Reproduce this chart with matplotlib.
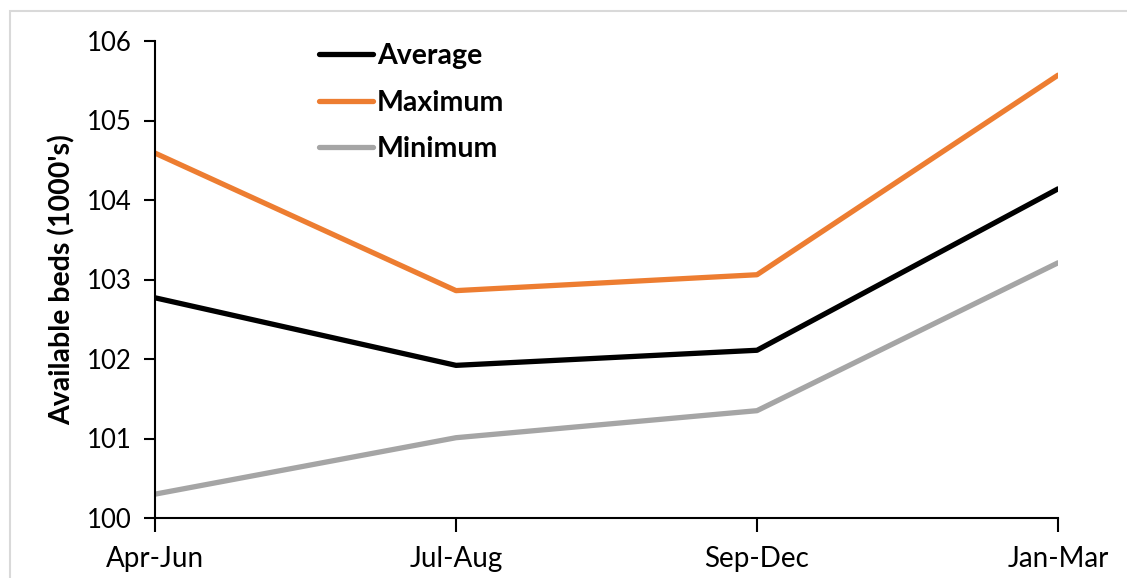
import matplotlib
matplotlib.use("Agg")
from matplotlib import pyplot as plt
from matplotlib.patches import Rectangle

# quarters and bed counts (1000's)
periods = ["Apr-Jun", "Jul-Aug", "Sep-Dec", "Jan-Mar"]
average = [102.77, 101.92, 102.11, 104.14]
maximum = [104.59, 102.86, 103.06, 105.57]
minimum = [100.30, 101.01, 101.35, 103.21]

plt.rcParams['font.family'] = ['Lato', 'DejaVu Sans']

fig = plt.figure(figsize=(11.27, 5.78), dpi=100)
# light grey chart-area border (Excel style)
fig.patches.append(Rectangle((10 / 1127, -0.1), 1.2, 1 - 11 / 578 + 0.1,
                             transform=fig.transFigure, fill=False,
                             edgecolor="#d9d9d9", linewidth=1.5))

ax = fig.add_axes([155 / 1127, 1 - 518 / 578, (1058 - 155) / 1127, (518 - 41) / 578])
x = range(len(periods))
ax.plot(x, average, color="black", lw=3.8, label="Average", solid_capstyle="round")
ax.plot(x, maximum, color="#ED7D31", lw=3.8, label="Maximum", solid_capstyle="round")
ax.plot(x, minimum, color="#A5A5A5", lw=3.8, label="Minimum", solid_capstyle="round")

ax.set_xlim(0, 3)
ax.set_ylim(100, 106)
ax.set_xticks(list(x))
ax.set_xticklabels(periods)
ax.set_yticks(range(100, 107))
for s in ["top", "right"]:
    ax.spines[s].set_visible(False)
for s in ["left", "bottom"]:
    ax.spines[s].set_linewidth(1.5)
ax.tick_params(axis="y", direction="out", length=8, width=1.5, labelsize=18.5, pad=9)
ax.tick_params(axis="x", direction="out", length=10, width=1.5, labelsize=20, pad=10)
ax.set_ylabel("Available beds (1000's)", fontsize=20.5, fontweight="bold", labelpad=8)

leg = ax.legend(loc="upper left", bbox_to_anchor=(0.153, 1.049), frameon=False,
                handlelength=1.9, handletextpad=0.15, labelspacing=0.72,
                prop={"size": 20.5, "weight": "bold"})

fig.savefig("out.png", dpi=100)
